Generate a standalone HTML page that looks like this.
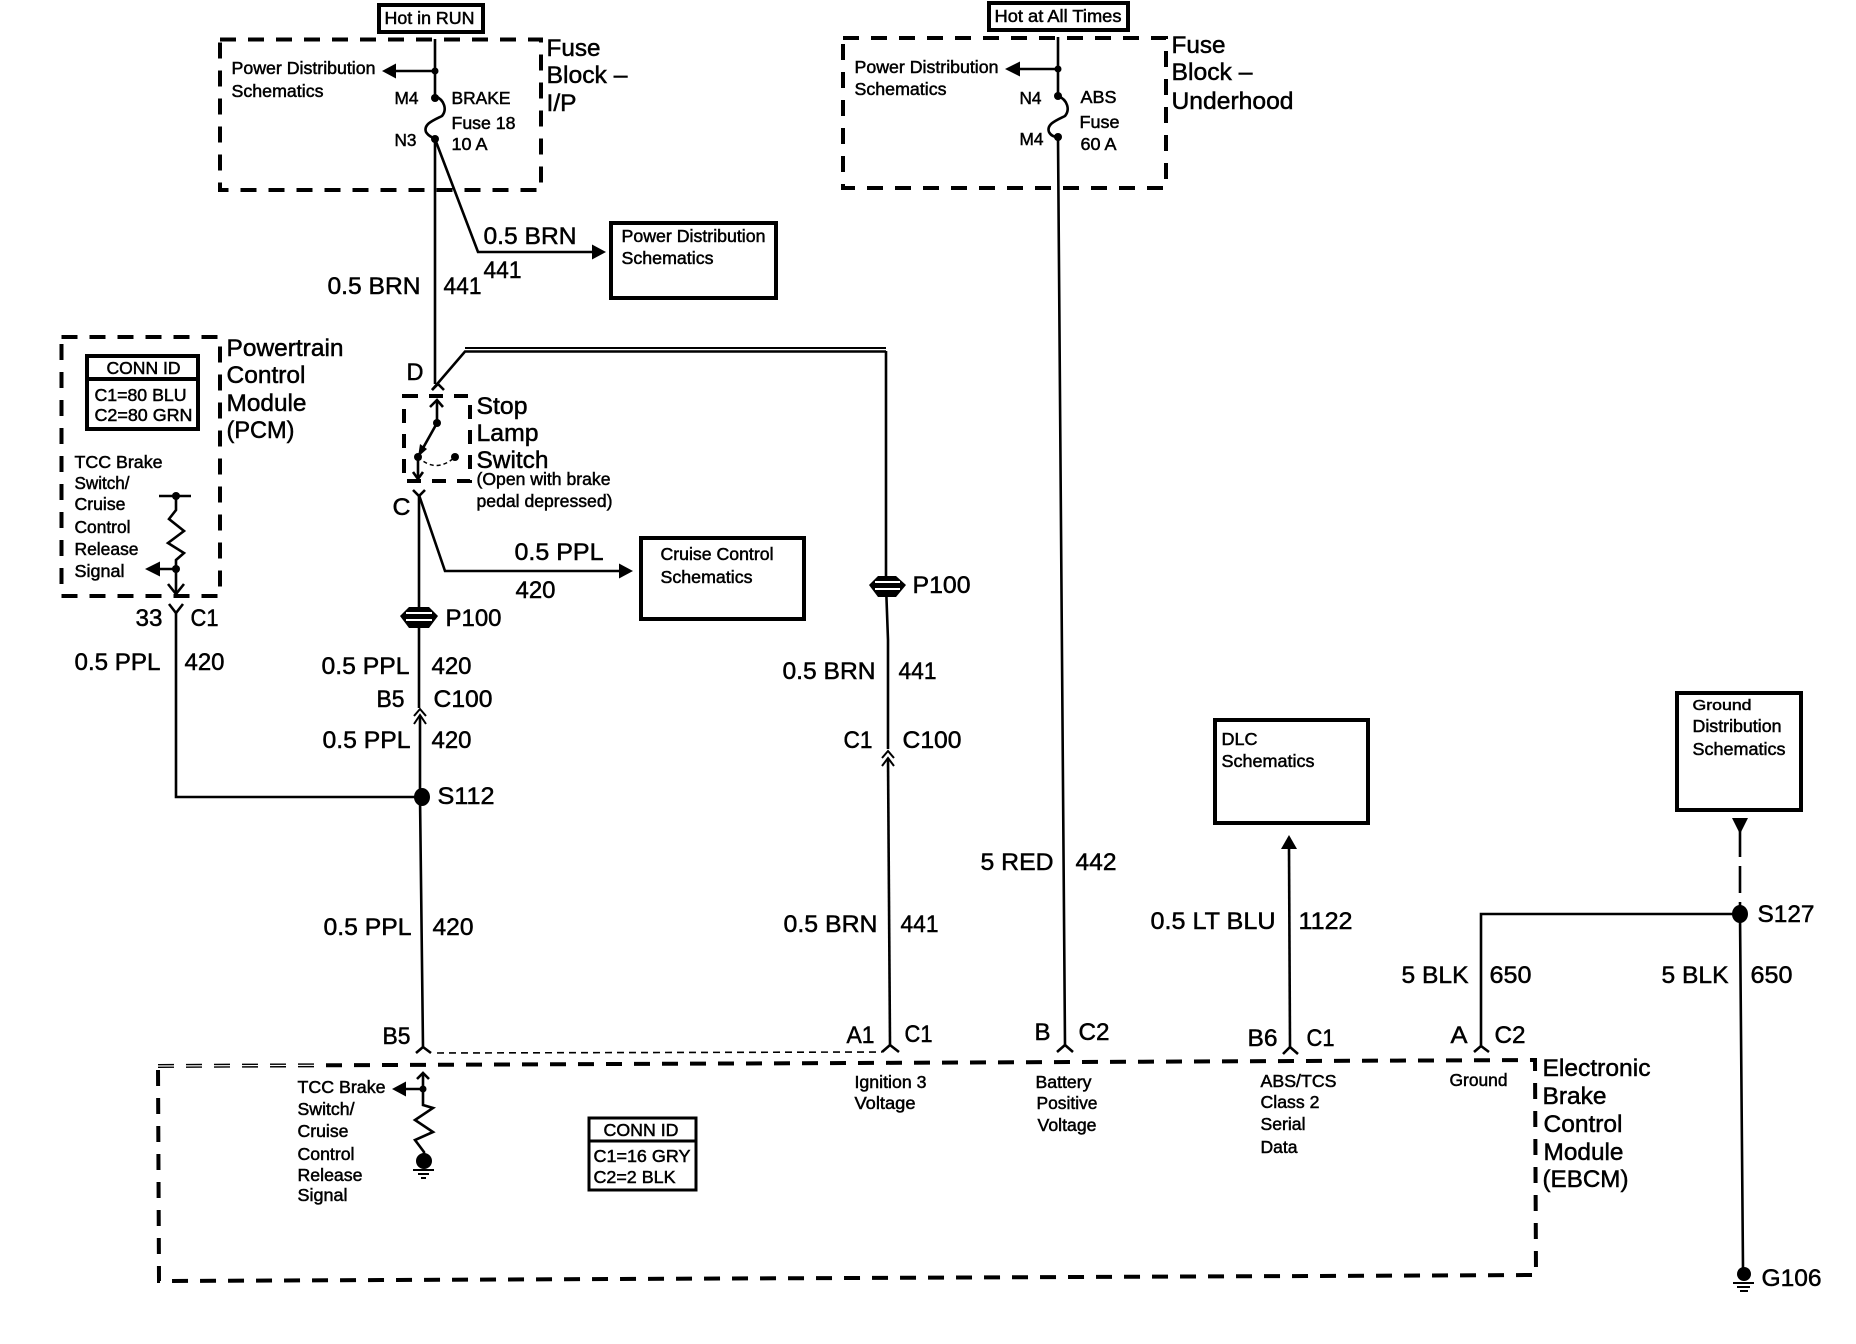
<!DOCTYPE html>
<html>
<head>
<meta charset="utf-8">
<style>
html,body{margin:0;padding:0;background:#fff;}
svg{display:block;}
text{font-family:"Liberation Sans",Arial,sans-serif;fill:#000;stroke:#000;stroke-width:.5;}
.l{font-size:24.5px;}
.s{font-size:17.7px;}
.w{fill:none;stroke:#000;stroke-width:2.6;stroke-linejoin:miter;}
.t{fill:none;stroke:#000;stroke-width:2;}
.d{fill:none;stroke:#000;stroke-width:4;stroke-dasharray:16 12;}
.b{fill:none;stroke:#000;stroke-width:4;}
.f{fill:#000;stroke:none;}
</style>
</head>
<body>
<svg width="1856" height="1344" viewBox="0 0 1856 1344" xmlns="http://www.w3.org/2000/svg">
<rect width="1856" height="1344" fill="#fff"/>

<!-- dashed enclosures -->
<rect class="d" x="220" y="39.5" width="321" height="150.5"/>
<rect class="d" x="843" y="38" width="323" height="150"/>
<rect class="d" x="61.5" y="337" width="158.5" height="259"/>
<rect class="d" style="stroke-dasharray:14 11" x="404" y="396" width="66" height="85"/>
<path class="d" d="M158 1066 L1535 1060 L1536 1275 L159 1281 Z"/>
<path d="M158 1066 L320 1065.300" fill="none" stroke="#fff" stroke-width="1.200"/>
<path d="M437 1053 L882 1052" fill="none" stroke="#000" stroke-width="1.6" stroke-dasharray="7 5"/>

<!-- solid boxes -->
<rect class="b" x="379" y="5" width="104" height="27"/>
<rect class="b" x="989" y="3" width="139" height="27"/>
<rect class="b" x="611" y="223" width="165" height="75"/>
<rect class="b" x="641" y="538" width="163" height="81"/>
<rect class="b" x="1215" y="720" width="153" height="103"/>
<rect class="b" x="1677" y="693" width="124" height="117"/>
<rect class="b" x="87" y="356" width="111" height="73"/>
<path class="b" d="M87 379H198"/>
<rect class="b" style="stroke-width:3" x="589" y="1118" width="107" height="72"/>
<path class="b" style="stroke-width:3" d="M589 1141H696"/>

<!-- Hot in RUN wiring -->
<path class="w" d="M435 39V96C445 100 447 110 442 116C434 120 423 124 426 132C428 136 432 137 435 139V384"/>
<path class="w" d="M435 139L478 252H595"/>
<path class="f" d="M606 252L592 244.500V259.500Z"/>
<path class="w" d="M435 71H394"/>
<path class="f" d="M382 71L396 63.500V78.500Z"/>
<circle class="f" cx="435" cy="71" r="3.500"/>
<circle class="f" cx="435" cy="98" r="4"/>
<circle class="f" cx="435" cy="139" r="4"/>

<!-- Hot at all times wiring -->
<path class="w" d="M1058 37V96C1068 100 1070 110 1065 116C1057 120 1046 124 1049 132C1051 136 1055 137 1058 137L1065 1045"/>
<path class="w" d="M1058 69H1018"/>
<path class="f" d="M1005 69L1020 61.500V76.500Z"/>
<circle class="f" cx="1058" cy="69" r="3.500"/>
<circle class="f" cx="1058" cy="96" r="4"/>
<circle class="f" cx="1058" cy="137" r="4"/>

<!-- D connector + brown wire to right -->
<path class="w" d="M432 390L438 384L444 390"/>
<path class="w" d="M432 390L465 351.500H886"/>
<path class="t" d="M465 348H886"/>
<path class="w" d="M886 351V585L888 640V749"/>
<path class="t" d="M882 758L888 751L894 758M882 766L888 758L894 766"/>
<path class="w" d="M888 758L890 1045"/>

<!-- switch -->
<path class="w" d="M437 402V423L418 457V479"/>
<path class="w" d="M430 407L437 400L443 407"/>
<path class="w" d="M413 472L418 479L423 472"/>
<path class="f" d="M418 457L420 444L427 449Z"/>
<circle class="f" cx="437" cy="423" r="4"/>
<circle class="f" cx="418" cy="457" r="4"/>
<circle class="f" cx="455" cy="457" r="4"/>
<path d="M418 457Q436 474 455 457" fill="none" stroke="#000" stroke-width="1.500" stroke-dasharray="4 3"/>

<!-- C connector -->
<path class="w" d="M413 490L419 496L425 490"/>
<path class="w" d="M419 495V708"/>
<path class="w" d="M419 495L445 571H622"/>
<path class="f" d="M633 571L619 563.500V578.500Z"/>

<!-- P100 symbols -->
<g>
<path class="f" d="M400 616L409 607H429L438 616L429 628H409Z"/>
<path d="M406 613H432M406 620H432" fill="none" stroke="#fff" stroke-width="2"/>
<path class="w" style="stroke-width:2.400" d="M404 616H434"/>
</g>
<g>
<path class="f" d="M869 585L878 576H896L906 585L896 597H878Z"/>
<path d="M875 582H900M875 589H900" fill="none" stroke="#fff" stroke-width="2"/>
<path class="w" style="stroke-width:2.400" d="M873 585H902"/>
</g>

<!-- C100 left -->
<path class="t" d="M414 716L420 709L426 716M414 724L420 715L426 724"/>
<path class="w" d="M420 716V797L423 1047"/>
<path class="w" d="M416 1053L423 1047L431 1053"/>
<ellipse class="f" cx="422" cy="797" rx="8" ry="9"/>
<path class="w" d="M422 797H176V613"/>
<path class="w" d="M169 604L176 613L183 604"/>
<path class="w" d="M882 1052L890 1045L899 1052"/>
<path class="w" d="M1057 1052L1065 1045L1073 1052"/>

<!-- PCM resistor -->
<path class="w" d="M159 496H191"/>
<circle class="f" cx="176" cy="496" r="4"/>
<path class="w" d="M176 496V510L169 519L184 531L168 543L184 553L176 560V594"/>
<path class="w" d="M168 584L176 594L184 584"/>
<path class="w" d="M176 569H158"/>
<path class="f" d="M145 569L160 561.500V576.500Z"/>
<circle class="f" cx="176" cy="569" r="4"/>

<!-- EBCM resistor -->
<path class="w" d="M417 1079L423 1073L429 1079"/>
<path class="w" d="M423 1073V1105L433 1108L415 1120L433 1132L415 1140L424 1152V1163"/>
<path class="w" d="M423 1089H403"/>
<path class="f" d="M392 1089L406 1081.500V1096.500Z"/>
<circle class="f" cx="423" cy="1089" r="3.500"/>
<ellipse class="f" cx="424" cy="1161" rx="8" ry="8"/>
<path class="t" d="M413 1170H434M418 1174H429M421 1178H426"/>

<!-- 1122 -->
<path class="w" d="M1289 848L1290 1047"/>
<path class="f" d="M1289 835L1281 849H1297Z"/>
<path class="w" d="M1283 1054L1290 1047L1298 1054"/>

<!-- Ground -->
<path class="w" d="M1474 1052L1481 1046L1489 1052"/>
<path class="w" d="M1481 1046V914H1740L1743 1268"/>
<path class="w" d="M1740 830V906" stroke-dasharray="27 9"/>
<path class="f" d="M1732 818H1748L1740 834Z"/>
<ellipse class="f" cx="1740" cy="914" rx="8" ry="9"/>
<ellipse class="f" cx="1744" cy="1274" rx="7" ry="7"/>
<path class="t" d="M1733 1283H1754M1737 1287H1750M1740 1291H1748"/>

<g transform="translate(-0.5,-1)">
<!-- text: top-left -->
<text class="s" x="385" y="25" textLength="90" lengthAdjust="spacingAndGlyphs">Hot in RUN</text>
<text class="s" x="232" y="75" textLength="144" lengthAdjust="spacingAndGlyphs">Power Distribution</text>
<text class="s" x="232" y="98" textLength="92" lengthAdjust="spacingAndGlyphs">Schematics</text>
<text class="s" x="395" y="105" textLength="24" lengthAdjust="spacingAndGlyphs">M4</text>
<text class="s" x="395" y="147" textLength="22" lengthAdjust="spacingAndGlyphs">N3</text>
<text class="s" x="452" y="105" textLength="59" lengthAdjust="spacingAndGlyphs">BRAKE</text>
<text class="s" x="452" y="130" textLength="64" lengthAdjust="spacingAndGlyphs">Fuse 18</text>
<text class="s" x="452" y="151" textLength="36" lengthAdjust="spacingAndGlyphs">10 A</text>
<text class="l" x="547" y="57" textLength="54" lengthAdjust="spacingAndGlyphs">Fuse</text>
<text class="l" x="547" y="84" textLength="81" lengthAdjust="spacingAndGlyphs">Block –</text>
<text class="l" x="547" y="112" textLength="30" lengthAdjust="spacingAndGlyphs">I/P</text>
<text class="l" x="484" y="245" textLength="93" lengthAdjust="spacingAndGlyphs">0.5 BRN</text>
<text class="l" x="484" y="279" textLength="38" lengthAdjust="spacingAndGlyphs">441</text>
<text class="l" x="328" y="295" textLength="93" lengthAdjust="spacingAndGlyphs">0.5 BRN</text>
<text class="l" x="444" y="295" textLength="38" lengthAdjust="spacingAndGlyphs">441</text>
<text class="s" x="622" y="243" textLength="144" lengthAdjust="spacingAndGlyphs">Power Distribution</text>
<text class="s" x="622" y="265" textLength="92" lengthAdjust="spacingAndGlyphs">Schematics</text>

<!-- text: top-right -->
<text class="s" x="995" y="23" textLength="127" lengthAdjust="spacingAndGlyphs">Hot at All Times</text>
<text class="s" x="855" y="74" textLength="144" lengthAdjust="spacingAndGlyphs">Power Distribution</text>
<text class="s" x="855" y="96" textLength="92" lengthAdjust="spacingAndGlyphs">Schematics</text>
<text class="s" x="1020" y="105" textLength="22" lengthAdjust="spacingAndGlyphs">N4</text>
<text class="s" x="1020" y="146" textLength="24" lengthAdjust="spacingAndGlyphs">M4</text>
<text class="s" x="1081" y="104" textLength="36" lengthAdjust="spacingAndGlyphs">ABS</text>
<text class="s" x="1080" y="129" textLength="40" lengthAdjust="spacingAndGlyphs">Fuse</text>
<text class="s" x="1081" y="151" textLength="36" lengthAdjust="spacingAndGlyphs">60 A</text>
<text class="l" x="1172" y="54" textLength="54" lengthAdjust="spacingAndGlyphs">Fuse</text>
<text class="l" x="1172" y="81" textLength="81" lengthAdjust="spacingAndGlyphs">Block –</text>
<text class="l" x="1172" y="110" textLength="122" lengthAdjust="spacingAndGlyphs">Underhood</text>

<!-- text: PCM -->
<text class="l" x="227" y="357" textLength="117" lengthAdjust="spacingAndGlyphs">Powertrain</text>
<text class="l" x="227" y="384" textLength="79" lengthAdjust="spacingAndGlyphs">Control</text>
<text class="l" x="227" y="412" textLength="80" lengthAdjust="spacingAndGlyphs">Module</text>
<text class="l" x="227" y="439" textLength="68" lengthAdjust="spacingAndGlyphs">(PCM)</text>
<text class="s" x="107" y="375" textLength="74" lengthAdjust="spacingAndGlyphs">CONN ID</text>
<text class="s" x="95" y="402" textLength="92" lengthAdjust="spacingAndGlyphs">C1=80 BLU</text>
<text class="s" x="95" y="422" textLength="98" lengthAdjust="spacingAndGlyphs">C2=80 GRN</text>
<text class="s" x="75" y="469" textLength="88" lengthAdjust="spacingAndGlyphs">TCC Brake</text>
<text class="s" x="75" y="490" textLength="55" lengthAdjust="spacingAndGlyphs">Switch/</text>
<text class="s" x="75" y="511" textLength="51" lengthAdjust="spacingAndGlyphs">Cruise</text>
<text class="s" x="75" y="534" textLength="56" lengthAdjust="spacingAndGlyphs">Control</text>
<text class="s" x="75" y="556" textLength="64" lengthAdjust="spacingAndGlyphs">Release</text>
<text class="s" x="75" y="578" textLength="50" lengthAdjust="spacingAndGlyphs">Signal</text>
<text class="l" x="136" y="627" textLength="27" lengthAdjust="spacingAndGlyphs">33</text>
<text class="l" x="191" y="627" textLength="28" lengthAdjust="spacingAndGlyphs">C1</text>
<text class="l" x="75" y="671" textLength="86" lengthAdjust="spacingAndGlyphs">0.5 PPL</text>
<text class="l" x="185" y="671" textLength="40" lengthAdjust="spacingAndGlyphs">420</text>

<!-- text: switch -->
<text class="l" x="407" y="381" textLength="17" lengthAdjust="spacingAndGlyphs">D</text>
<text class="l" x="393" y="516" textLength="18" lengthAdjust="spacingAndGlyphs">C</text>
<text class="l" x="477" y="415" textLength="51" lengthAdjust="spacingAndGlyphs">Stop</text>
<text class="l" x="477" y="442" textLength="62" lengthAdjust="spacingAndGlyphs">Lamp</text>
<text class="l" x="477" y="469" textLength="72" lengthAdjust="spacingAndGlyphs">Switch</text>
<text class="s" x="477" y="486" textLength="134" lengthAdjust="spacingAndGlyphs">(Open with brake</text>
<text class="s" x="477" y="508" textLength="136" lengthAdjust="spacingAndGlyphs">pedal depressed)</text>
<text class="l" x="515" y="561" textLength="89" lengthAdjust="spacingAndGlyphs">0.5 PPL</text>
<text class="l" x="516" y="599" textLength="40" lengthAdjust="spacingAndGlyphs">420</text>
<text class="s" x="661" y="561" textLength="113" lengthAdjust="spacingAndGlyphs">Cruise Control</text>
<text class="s" x="661" y="584" textLength="92" lengthAdjust="spacingAndGlyphs">Schematics</text>
<text class="l" x="446" y="627" textLength="56" lengthAdjust="spacingAndGlyphs">P100</text>
<text class="l" x="913" y="594" textLength="58" lengthAdjust="spacingAndGlyphs">P100</text>

<!-- text: middle wire labels -->
<text class="l" x="322" y="675" textLength="88" lengthAdjust="spacingAndGlyphs">0.5 PPL</text>
<text class="l" x="432" y="675" textLength="40" lengthAdjust="spacingAndGlyphs">420</text>
<text class="l" x="377" y="708" textLength="28" lengthAdjust="spacingAndGlyphs">B5</text>
<text class="l" x="434" y="708" textLength="59" lengthAdjust="spacingAndGlyphs">C100</text>
<text class="l" x="323" y="749" textLength="88" lengthAdjust="spacingAndGlyphs">0.5 PPL</text>
<text class="l" x="432" y="749" textLength="40" lengthAdjust="spacingAndGlyphs">420</text>
<text class="l" x="438" y="805" textLength="57" lengthAdjust="spacingAndGlyphs">S112</text>
<text class="l" x="324" y="936" textLength="88" lengthAdjust="spacingAndGlyphs">0.5 PPL</text>
<text class="l" x="433" y="936" textLength="41" lengthAdjust="spacingAndGlyphs">420</text>
<text class="l" x="383" y="1045" textLength="28" lengthAdjust="spacingAndGlyphs">B5</text>
<text class="l" x="783" y="680" textLength="93" lengthAdjust="spacingAndGlyphs">0.5 BRN</text>
<text class="l" x="899" y="680" textLength="38" lengthAdjust="spacingAndGlyphs">441</text>
<text class="l" x="844" y="749" textLength="29" lengthAdjust="spacingAndGlyphs">C1</text>
<text class="l" x="903" y="749" textLength="59" lengthAdjust="spacingAndGlyphs">C100</text>
<text class="l" x="784" y="933" textLength="94" lengthAdjust="spacingAndGlyphs">0.5 BRN</text>
<text class="l" x="901" y="933" textLength="38" lengthAdjust="spacingAndGlyphs">441</text>
<text class="l" x="847" y="1044" textLength="28" lengthAdjust="spacingAndGlyphs">A1</text>
<text class="l" x="905" y="1043" textLength="28" lengthAdjust="spacingAndGlyphs">C1</text>
<text class="l" x="981" y="871" textLength="73" lengthAdjust="spacingAndGlyphs">5 RED</text>
<text class="l" x="1076" y="871" textLength="41" lengthAdjust="spacingAndGlyphs">442</text>
<text class="l" x="1035" y="1041" textLength="16" lengthAdjust="spacingAndGlyphs">B</text>
<text class="l" x="1079" y="1041" textLength="31" lengthAdjust="spacingAndGlyphs">C2</text>

<!-- text: right -->
<text class="s" x="1222" y="746" textLength="36" lengthAdjust="spacingAndGlyphs">DLC</text>
<text class="s" x="1222" y="768" textLength="93" lengthAdjust="spacingAndGlyphs">Schematics</text>
<text class="l" x="1151" y="930" textLength="125" lengthAdjust="spacingAndGlyphs">0.5 LT BLU</text>
<text class="l" x="1299" y="930" textLength="54" lengthAdjust="spacingAndGlyphs">1122</text>
<text class="l" x="1248" y="1047" textLength="30" lengthAdjust="spacingAndGlyphs">B6</text>
<text class="l" x="1307" y="1047" textLength="28" lengthAdjust="spacingAndGlyphs">C1</text>
<text class="l" x="1451" y="1044" textLength="17" lengthAdjust="spacingAndGlyphs">A</text>
<text class="l" x="1495" y="1044" textLength="31" lengthAdjust="spacingAndGlyphs">C2</text>
<text class="l" x="1402" y="984" textLength="67" lengthAdjust="spacingAndGlyphs">5 BLK</text>
<text class="l" x="1490" y="984" textLength="42" lengthAdjust="spacingAndGlyphs">650</text>
<text class="l" x="1662" y="984" textLength="67" lengthAdjust="spacingAndGlyphs">5 BLK</text>
<text class="l" x="1751" y="984" textLength="42" lengthAdjust="spacingAndGlyphs">650</text>
<text class="l" x="1758" y="923" textLength="57" lengthAdjust="spacingAndGlyphs">S127</text>
<text class="l" x="1762" y="1287" textLength="60" lengthAdjust="spacingAndGlyphs">G106</text>
<text class="s" style="font-size:15px" x="1693" y="711" textLength="59" lengthAdjust="spacingAndGlyphs">Ground</text>
<text class="s" x="1693" y="733" textLength="89" lengthAdjust="spacingAndGlyphs">Distribution</text>
<text class="s" x="1693" y="756" textLength="93" lengthAdjust="spacingAndGlyphs">Schematics</text>

<!-- text: EBCM -->
<text class="s" x="298" y="1094" textLength="88" lengthAdjust="spacingAndGlyphs">TCC Brake</text>
<text class="s" x="298" y="1116" textLength="57" lengthAdjust="spacingAndGlyphs">Switch/</text>
<text class="s" x="298" y="1138" textLength="51" lengthAdjust="spacingAndGlyphs">Cruise</text>
<text class="s" x="298" y="1161" textLength="57" lengthAdjust="spacingAndGlyphs">Control</text>
<text class="s" x="298" y="1182" textLength="65" lengthAdjust="spacingAndGlyphs">Release</text>
<text class="s" x="298" y="1202" textLength="50" lengthAdjust="spacingAndGlyphs">Signal</text>
<text class="s" x="604" y="1137" textLength="75" lengthAdjust="spacingAndGlyphs">CONN ID</text>
<text class="s" x="594" y="1163" textLength="97" lengthAdjust="spacingAndGlyphs">C1=16 GRY</text>
<text class="s" x="594" y="1184" textLength="82" lengthAdjust="spacingAndGlyphs">C2=2 BLK</text>
<text class="s" x="855" y="1089" textLength="72" lengthAdjust="spacingAndGlyphs">Ignition 3</text>
<text class="s" x="855" y="1110" textLength="61" lengthAdjust="spacingAndGlyphs">Voltage</text>
<text class="s" x="1036" y="1089" textLength="56" lengthAdjust="spacingAndGlyphs">Battery</text>
<text class="s" x="1037" y="1110" textLength="61" lengthAdjust="spacingAndGlyphs">Positive</text>
<text class="s" x="1038" y="1132" textLength="59" lengthAdjust="spacingAndGlyphs">Voltage</text>
<text class="s" x="1261" y="1088" textLength="76" lengthAdjust="spacingAndGlyphs">ABS/TCS</text>
<text class="s" x="1261" y="1109" textLength="59" lengthAdjust="spacingAndGlyphs">Class 2</text>
<text class="s" x="1261" y="1131" textLength="45" lengthAdjust="spacingAndGlyphs">Serial</text>
<text class="s" x="1261" y="1154" textLength="37" lengthAdjust="spacingAndGlyphs">Data</text>
<text class="s" x="1450" y="1087" textLength="58" lengthAdjust="spacingAndGlyphs">Ground</text>
<text class="l" x="1543" y="1077" textLength="108" lengthAdjust="spacingAndGlyphs">Electronic</text>
<text class="l" x="1543" y="1105" textLength="64" lengthAdjust="spacingAndGlyphs">Brake</text>
<text class="l" x="1544" y="1133" textLength="79" lengthAdjust="spacingAndGlyphs">Control</text>
<text class="l" x="1544" y="1161" textLength="80" lengthAdjust="spacingAndGlyphs">Module</text>
<text class="l" x="1543" y="1188" textLength="86" lengthAdjust="spacingAndGlyphs">(EBCM)</text>
</g>
</svg>
</body>
</html>
